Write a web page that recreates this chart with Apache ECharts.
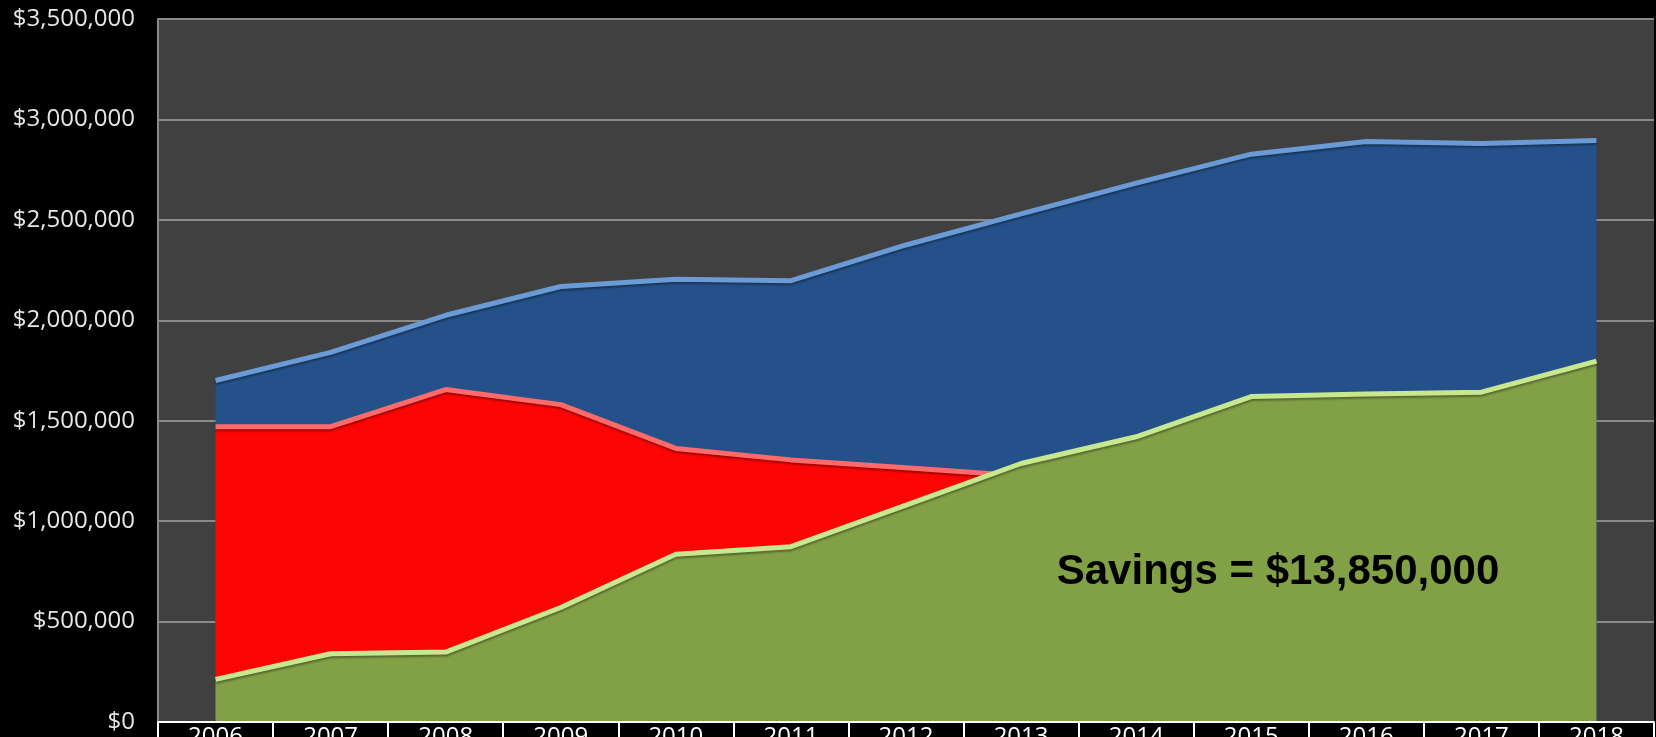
<!DOCTYPE html>
<html>
<head>
<meta charset="utf-8">
<script src="https://cdn.jsdelivr.net/npm/echarts@6/dist/echarts.min.js"></script>
<style>
html,body{margin:0;padding:0;background:#000;}
#chart{width:1656px;height:737px;}
</style>
</head>
<body>
<div id="chart"></div>
<script>
const years = ['2006','2007','2008','2009','2010','2011','2012','2013','2014','2015','2016','2017','2018'];
const totalCost = [1700000, 1840000, 2025000, 2168000, 2204000, 2197000, 2375000, 2530000, 2683000, 2827000, 2890000, 2880000, 2895000];
const redCost = [1470000, 1470000, 1655000, 1580000, 1362000, 1305000, 1266000, 1226000, null, null, null, null, null];
const greenCost = [212000, 340000, 348000, 570000, 835000, 873000, 1080000, 1287000, 1420000, 1620000, 1633000, 1642000, 1797000];
const savingsText = 'Savings = $13,850,000';

const FONT = 'Open Sans';
const chart = echarts.init(document.getElementById('chart'));

function areaSeries(name, data, fill, edge, z) {
  return {
    name: name,
    type: 'line',
    data: data,
    z: z,
    symbol: 'none',
    connectNulls: false,
    lineStyle: { color: edge, width: 5, shadowColor: 'rgba(0,0,0,0.35)', shadowOffsetY: 2, shadowBlur: 2 },
    areaStyle: { color: fill, opacity: 1 },
    emphasis: { disabled: true }
  };
}

chart.setOption({
  backgroundColor: '#000',
  animation: false,
  grid: {
    left: 158, right: 2, top: 19, bottom: 15,
    containLabel: false, outerBoundsMode: 'none',
    show: true, backgroundColor: '#404040', borderWidth: 0
  },
  xAxis: {
    type: 'category',
    data: years,
    boundaryGap: true,
    axisLine: { show: true, lineStyle: { color: '#ffffff', width: 2 } },
    axisTick: { show: true, length: 20, lineStyle: { color: '#ffffff', width: 2 } },
    axisLabel: { color: '#ffffff', fontSize: 24, fontFamily: FONT, margin: 3 },
    splitLine: { show: false },
    z: 10
  },
  yAxis: {
    type: 'value',
    min: 0,
    max: 3500000,
    interval: 500000,
    axisLine: { show: true, lineStyle: { color: '#8a8a8a', width: 2 } },
    axisTick: { show: false },
    splitLine: { show: true, lineStyle: { color: '#8a8a8a', width: 2 } },
    axisLabel: {
      color: '#e6e6e6', fontSize: 24, fontFamily: FONT, margin: 23,
      formatter: v => '$' + v.toLocaleString('en-US')
    }
  },
  series: [
    areaSeries('Total', totalCost, '#25518a', '#6b9bd6', 2),
    areaSeries('Red', redCost, '#fe0505', '#ff6a6a', 3),
    areaSeries('Green', greenCost, '#82a046', '#c8e890', 4)
  ],
  graphic: [{
    type: 'text',
    x: 1278, y: 572, z: 100,
    style: {
      text: savingsText,
      font: 'bold 42px "Liberation Sans"',
      fill: '#000000',
      textAlign: 'center',
      textVerticalAlign: 'middle'
    }
  }]
});
</script>
</body>
</html>
